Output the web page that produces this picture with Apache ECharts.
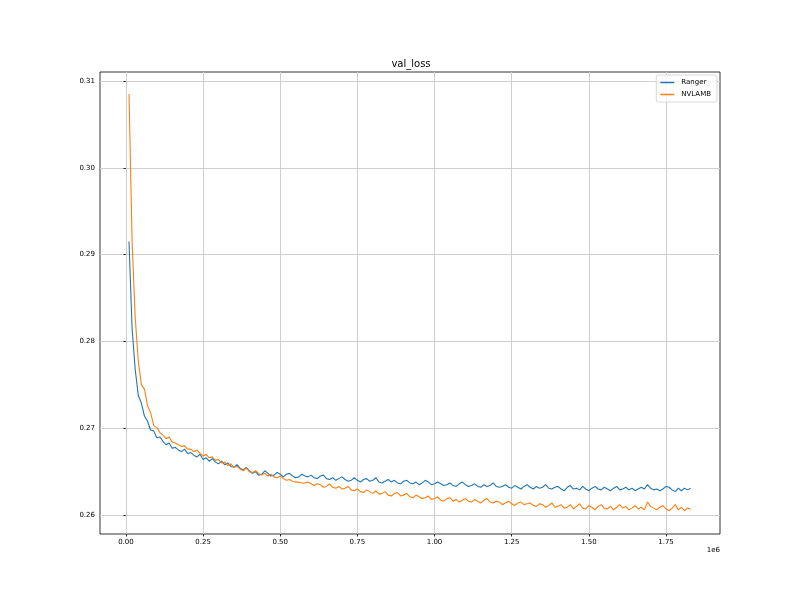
<!DOCTYPE html>
<html>
<head>
<meta charset="utf-8">
<script src="https://cdn.jsdelivr.net/npm/echarts@6/dist/echarts.min.js"></script>
<style>html,body{margin:0;padding:0;background:#fff}#c{width:800px;height:600px}</style>
</head>
<body>
<div id="c"></div>
<script>
const chartTitle = 'val_loss';
const seriesNames = ['Ranger', 'NVLAMB'];
const stepSize = 10000;
const xTicks = [0, 250000, 500000, 750000, 1000000, 1250000, 1500000, 1750000];
const yTicks = [0.26, 0.27, 0.28, 0.29, 0.30, 0.31];
const ranger = [
0.2915,0.2815,0.2768,0.2738,0.2729,0.2714,0.2708,0.2698,0.2697,0.2689,
0.2690,0.2685,0.2681,0.2683,0.2677,0.2678,0.2675,0.2673,0.2676,0.2671,
0.2672,0.2669,0.2667,0.2670,0.2664,0.2666,0.2662,0.2665,0.2661,0.2659,
0.2662,0.2658,0.2660,0.2656,0.2655,0.2658,0.2654,0.2652,0.2655,0.2651,
0.2648,0.2650,0.2646,0.2647,0.2651,0.2648,0.2645,0.2646,0.2649,0.2647,
0.2644,0.2647,0.2648,0.2645,0.2643,0.2644,0.2647,0.2645,0.2644,0.2646,
0.2643,0.2642,0.2645,0.2646,0.2642,0.2641,0.2643,0.2640,0.2642,0.2644,
0.2641,0.2639,0.2640,0.2643,0.2640,0.2638,0.2641,0.2642,0.2639,0.2640,
0.2643,0.2638,0.2637,0.2639,0.2641,0.2638,0.2640,0.2637,0.2636,0.2639,
0.2640,0.2637,0.2636,0.2638,0.2635,0.2637,0.2640,0.2638,0.2635,0.2636,
0.2638,0.2636,0.2634,0.2635,0.2637,0.2634,0.2633,0.2636,0.2638,0.2635,
0.2633,0.2634,0.2636,0.2633,0.2632,0.2635,0.2633,0.2634,0.2637,0.2633,
0.2632,0.2633,0.2635,0.2632,0.2631,0.2634,0.2632,0.2630,0.2633,0.2635,
0.2632,0.2630,0.2633,0.2631,0.2632,0.2635,0.2631,0.2630,0.2632,0.2633,
0.2630,0.2628,0.2632,0.2634,0.2630,0.2631,0.2629,0.2633,0.2630,0.2628,
0.2631,0.2633,0.2630,0.2629,0.2632,0.2630,0.2628,0.2631,0.2633,0.2629,
0.2630,0.2632,0.2629,0.2631,0.2628,0.2630,0.2632,0.2630,0.2635,0.2631,
0.2629,0.2630,0.2628,0.2630,0.2633,0.2632,0.2629,0.2627,0.2631,0.2628,
0.2631,0.2629,0.2631
];
const nvlamb = [
0.3085,0.2915,0.2828,0.2778,0.2750,0.2745,0.2726,0.2718,0.2703,0.2701,
0.2695,0.2692,0.2688,0.2690,0.2684,0.2683,0.2681,0.2679,0.2680,0.2676,
0.2676,0.2673,0.2675,0.2671,0.2668,0.2670,0.2666,0.2667,0.2663,0.2664,
0.2660,0.2661,0.2657,0.2659,0.2655,0.2656,0.2653,0.2651,0.2654,0.2650,
0.2649,0.2651,0.2648,0.2646,0.2648,0.2645,0.2647,0.2644,0.2643,0.2645,
0.2642,0.2640,0.2641,0.2639,0.2638,0.2638,0.2637,0.2637,0.2638,0.2636,
0.2634,0.2636,0.2635,0.2632,0.2633,0.2636,0.2632,0.2631,0.2633,0.2630,
0.2631,0.2633,0.2629,0.2628,0.2630,0.2627,0.2626,0.2629,0.2627,0.2625,
0.2628,0.2624,0.2625,0.2627,0.2623,0.2622,0.2625,0.2626,0.2622,0.2623,
0.2625,0.2621,0.2620,0.2623,0.2621,0.2619,0.2620,0.2622,0.2618,0.2619,
0.2621,0.2617,0.2616,0.2619,0.2620,0.2616,0.2618,0.2615,0.2617,0.2619,
0.2616,0.2615,0.2618,0.2616,0.2614,0.2617,0.2619,0.2615,0.2614,0.2616,
0.2615,0.2612,0.2614,0.2616,0.2613,0.2611,0.2614,0.2615,0.2612,0.2613,
0.2614,0.2611,0.2610,0.2613,0.2612,0.2609,0.2611,0.2614,0.2609,0.2610,
0.2612,0.2608,0.2609,0.2612,0.2607,0.2610,0.2613,0.2608,0.2607,0.2611,
0.2609,0.2606,0.2610,0.2612,0.2608,0.2607,0.2610,0.2606,0.2609,0.2612,
0.2608,0.2610,0.2606,0.2608,0.2611,0.2607,0.2609,0.2606,0.2615,0.2610,
0.2608,0.2606,0.2609,0.2611,0.2607,0.2605,0.2608,0.2612,0.2606,0.2609,
0.2605,0.2608,0.2607
];
const colors = ['#1f77b4', '#ff7f0e'];

const toPairs = arr => arr.map((v, i) => [(i + 1) * stepSize, v]);
const font = 'DejaVu Sans';
const chart = echarts.init(document.getElementById('c'), null, {renderer: 'canvas'});
chart.setOption({
  animation: false,
  backgroundColor: '#fff',
  color: colors,
  title: {
    text: chartTitle, left: 411, top: 59, textAlign: 'center', padding: 0,
    textStyle: {fontFamily: font, fontSize: 10, fontWeight: 'normal', color: '#000'}
  },
  legend: {
    orient: 'vertical', right: 83, top: 75,
    data: seriesNames.map(n => ({name: n, icon: 'rect'})),
    itemWidth: 14, itemHeight: 1.5, itemGap: 5,
    padding: [4, 6, 4, 4],
    borderColor: '#d8d8d8', borderWidth: 1, borderRadius: 2,
    backgroundColor: 'rgba(255,255,255,0.8)',
    textStyle: {fontFamily: font, fontSize: 7, color: '#000', padding: [0, 0, 0, 2]}
  },
  grid: {left: 100, right: 80, top: 72, bottom: 66, show: true, borderColor: '#000', borderWidth: 0.8, backgroundColor: 'transparent'},
  xAxis: {
    type: 'value', min: -84000, max: 1925000,
    axisLine: {show: false},
    axisTick: {show: true, length: 2.5, customValues: xTicks, lineStyle: {color: '#000', width: 0.8}},
    axisLabel: {customValues: xTicks, formatter: v => (v / 1e6).toFixed(2), fontFamily: font, fontSize: 7, color: '#000', margin: 5},
    splitLine: {show: true, lineStyle: {color: '#cfcfcf', width: 1}}
  },
  yAxis: {
    type: 'value', min: 0.25782, max: 0.31103,
    axisLine: {show: false},
    axisTick: {show: true, length: 2.5, customValues: yTicks, lineStyle: {color: '#000', width: 0.8}},
    axisLabel: {customValues: yTicks, formatter: v => v.toFixed(2), fontFamily: font, fontSize: 7, color: '#000', margin: 5},
    splitLine: {show: true, lineStyle: {color: '#cfcfcf', width: 1}}
  },
  graphic: [{
    type: 'text', right: 80, top: 547,
    style: {text: '1e6', fontFamily: font, fontSize: 7, fill: '#000'}
  }],
  series: [
    {name: seriesNames[0], type: 'line', data: toPairs(ranger), showSymbol: false, lineStyle: {width: 1.1, color: colors[0]}, itemStyle: {color: colors[0]}},
    {name: seriesNames[1], type: 'line', data: toPairs(nvlamb), showSymbol: false, lineStyle: {width: 1.1, color: colors[1]}, itemStyle: {color: colors[1]}}
  ]
});
</script>
</body>
</html>
